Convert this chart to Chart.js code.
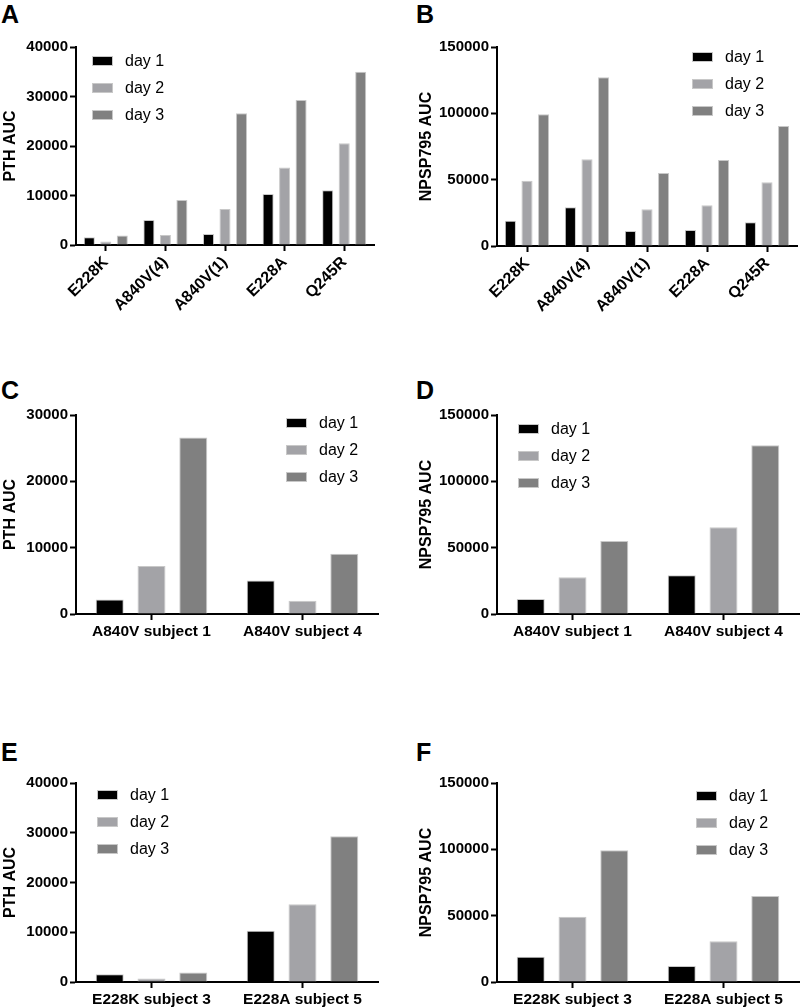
<!DOCTYPE html>
<html>
<head>
<meta charset="utf-8">
<script src="https://cdn.jsdelivr.net/npm/chart.js@4.4.1/dist/chart.umd.min.js"></script>
<style>
  body { margin: 0; background: #fff; width: 800px; height: 1008px; position: relative; overflow: hidden; }
  canvas { position: absolute; }
  .tag { position: absolute; font: bold 25px "Liberation Sans", Arial, sans-serif; line-height: 1; color: #000; }
</style>
</head>
<body>
<div class="tag" style="left:1px;top:2px">A</div>
<div class="tag" style="left:416px;top:2px">B</div>
<div class="tag" style="left:1px;top:378px">C</div>
<div class="tag" style="left:416px;top:378px">D</div>
<div class="tag" style="left:1px;top:740px">E</div>
<div class="tag" style="left:416px;top:740px">F</div>
<canvas id="cA"></canvas>
<canvas id="cB"></canvas>
<canvas id="cC"></canvas>
<canvas id="cD"></canvas>
<canvas id="cE"></canvas>
<canvas id="cF"></canvas>
<script>
// data
var days = ['day 1', 'day 2', 'day 3'];
var mutants = ['E228K', 'A840V(4)', 'A840V(1)', 'E228A', 'Q245R'];

var pthDay1 = [1550, 5050, 2200, 10300, 11050];
var pthDay2 = [700, 2000, 7250, 15650, 20550];
var pthDay3 = [1900, 9100, 26600, 29300, 35000];

var npspDay1 = [19100, 29150, 11300, 12050, 17850];
var npspDay2 = [49250, 65350, 27650, 30650, 48000];
var npspDay3 = [99250, 127150, 55050, 64850, 90450];

// panels C-F show the same subjects again, one pair at a time
var a840vLabels = ['A840V subject 1', 'A840V subject 4'];
var a840vKeys = ['A840V(1)', 'A840V(4)'];
var e228Labels = ['E228K subject 3', 'E228A subject 5'];
var e228Keys = ['E228K', 'E228A'];

var dayColors = ['#000000', '#a3a3a7', '#808080'];

function pick(arr, keys) {
  return keys.map(function (k) { return arr[mutants.indexOf(k)]; });
}

Chart.defaults.font.family = '"Liberation Sans", Arial, sans-serif';
Chart.defaults.color = '#000';

// legend drawn inside the plot, GraphPad style
var boxLegend = {
  id: 'boxLegend',
  afterDraw: function (chart, args, opts) {
    var ctx = chart.ctx, a = chart.chartArea;
    ctx.save();
    chart.data.datasets.forEach(function (ds, i) {
      var x = a.left + opts.dx, y = a.top + opts.dy + i * 27;
      ctx.fillStyle = ds.backgroundColor;
      ctx.fillRect(x, y - 5, 21, 10);
      ctx.strokeStyle = '#c8c8c8';
      ctx.lineWidth = 1;
      ctx.strokeRect(x + 0.5, y - 4.5, 20, 9);
      ctx.fillStyle = '#000';
      ctx.font = '16px "Liberation Sans", Arial, sans-serif';
      ctx.textBaseline = 'middle';
      ctx.fillText(ds.label, x + 33, y + 1);
    });
    ctx.restore();
  }
};

function makePanel(p) {
  var padTop = 12, padR = 4;
  var cv = document.getElementById(p.id);
  var w = p.yW + (p.area[2] - p.area[0]) + padR;
  var h = padTop + (p.area[3] - p.area[1]) + p.xH;
  cv.width = w; cv.height = h;
  cv.style.left = (p.area[0] - p.yW) + 'px';
  cv.style.top = (p.area[1] - padTop) + 'px';
  cv.style.width = w + 'px'; cv.style.height = h + 'px';

  var sets = p.series.map(function (vals, i) {
    return {
      label: days[i],
      data: vals,
      backgroundColor: dayColors[i],
      borderColor: '#c8c8c8',
      borderWidth: 1,
      categoryPercentage: 0.83,
      barPercentage: 0.67
    };
  });

  return new Chart(cv, {
    type: 'bar',
    data: { labels: p.labels, datasets: sets },
    plugins: [boxLegend],
    options: {
      responsive: false,
      animation: false,
      devicePixelRatio: 1,
      layout: { padding: { top: padTop, right: padR, left: 0, bottom: 0 } },
      plugins: {
        legend: { display: false },
        tooltip: { enabled: false },
        boxLegend: { dx: p.legend[0], dy: p.legend[1] }
      },
      scales: {
        x: {
          border: { color: '#000', width: 2 },
          grid: { drawOnChartArea: false, offset: false, tickLength: 6, tickWidth: 2, color: '#000' },
          ticks: {
            autoSkip: false,
            minRotation: p.rot, maxRotation: p.rot,
            padding: 2,
            color: '#000',
            font: { size: p.xFont, weight: 'bold' }
          },
          afterFit: function (s) { s.height = p.xH; }
        },
        y: {
          min: 0, max: p.yMax,
          border: { color: '#000', width: 2 },
          grid: { drawOnChartArea: false, tickLength: 6, tickWidth: 2, color: '#000' },
          ticks: {
            stepSize: p.step, padding: 2, color: '#000',
            font: { size: 15, weight: 'bold' },
            callback: function (v) { return String(v); }
          },
          title: { display: true, text: p.title, padding: 0, color: '#000', font: { size: 16, weight: 'bold' } },
          afterFit: function (s) { s.width = p.yW; }
        }
      }
    }
  });
}

var panels = [
  { id: 'cA', labels: mutants, series: [pthDay1, pthDay2, pthDay3],
    yMax: 40000, step: 10000, title: 'PTH AUC',
    area: [76, 47, 374, 245], yW: 75, xH: 80, rot: 45, xFont: 16, legend: [16, 14] },
  { id: 'cB', labels: mutants, series: [npspDay1, npspDay2, npspDay3],
    yMax: 150000, step: 50000, title: 'NPSP795 AUC',
    area: [497, 47, 797, 246], yW: 80, xH: 80, rot: 45, xFont: 16, legend: [195, 10] },
  { id: 'cC', labels: a840vLabels,
    series: [pick(pthDay1, a840vKeys), pick(pthDay2, a840vKeys), pick(pthDay3, a840vKeys)],
    yMax: 30000, step: 10000, title: 'PTH AUC',
    area: [76, 415, 378, 614], yW: 75, xH: 40, rot: 0, xFont: 15.5, legend: [210, 8] },
  { id: 'cD', labels: a840vLabels,
    series: [pick(npspDay1, a840vKeys), pick(npspDay2, a840vKeys), pick(npspDay3, a840vKeys)],
    yMax: 150000, step: 50000, title: 'NPSP795 AUC',
    area: [497, 415, 799, 614], yW: 80, xH: 40, rot: 0, xFont: 15.5, legend: [21, 14] },
  { id: 'cE', labels: e228Labels,
    series: [pick(pthDay1, e228Keys), pick(pthDay2, e228Keys), pick(pthDay3, e228Keys)],
    yMax: 40000, step: 10000, title: 'PTH AUC',
    area: [76, 783, 378, 982], yW: 75, xH: 26, rot: 0, xFont: 15.5, legend: [21, 12] },
  { id: 'cF', labels: e228Labels,
    series: [pick(npspDay1, e228Keys), pick(npspDay2, e228Keys), pick(npspDay3, e228Keys)],
    yMax: 150000, step: 50000, title: 'NPSP795 AUC',
    area: [497, 783, 799, 982], yW: 80, xH: 26, rot: 0, xFont: 15.5, legend: [199, 13] }
];

panels.forEach(makePanel);
</script>
</body>
</html>
